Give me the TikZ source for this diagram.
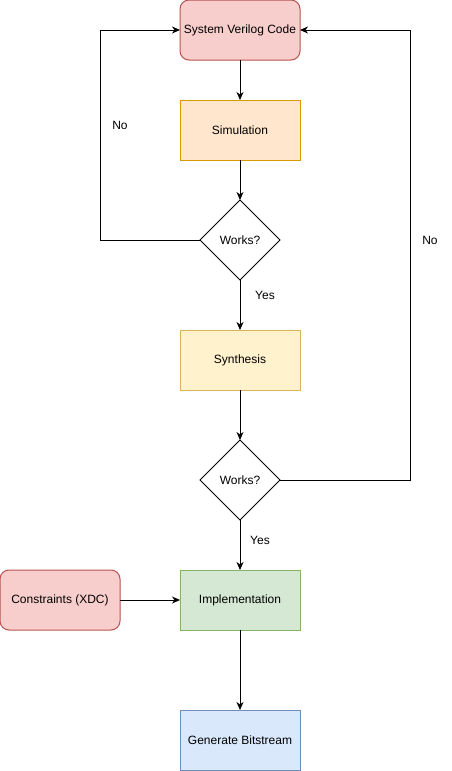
\documentclass[tikz,border=0pt]{standalone}
\usepackage{fontspec}
\setmainfont{Liberation Sans}
\usetikzlibrary{shapes.geometric, positioning, arrows.meta}

\definecolor{redfill}{HTML}{F8CECC}
\definecolor{redline}{HTML}{B85450}
\definecolor{orangefill}{HTML}{FFE6CC}
\definecolor{orangeline}{HTML}{D79B00}
\definecolor{yellowfill}{HTML}{FFF2CC}
\definecolor{yellowline}{HTML}{D6B656}
\definecolor{greenfill}{HTML}{D5E8D4}
\definecolor{greenline}{HTML}{82B366}
\definecolor{bluefill}{HTML}{DAE8FC}
\definecolor{blueline}{HTML}{6C8EBF}

\begin{document}
\begin{tikzpicture}[x=1pt, y=-1pt, line width=1pt,
  font=\fontsize{12}{14}\selectfont,
  box/.style={rectangle, minimum width=120pt, minimum height=60pt, inner sep=0pt, outer sep=0pt},
  roundbox/.style={box, rounded corners=9pt},
  works/.style={diamond, draw, aspect=1, minimum width=80pt, minimum height=80pt, inner sep=0pt, outer sep=0pt},
  arr/.style={-{Stealth[length=8pt, width=7pt, inset=2.5pt]}}]

\useasboundingbox (0,0) rectangle (451,771);

\node[roundbox, draw=redline, fill=redfill] (sv) at (240,30) {System Verilog Code};
\node[box, draw=orangeline, fill=orangefill, below=40pt of sv] (sim) {Simulation};
\node[works, below=40pt of sim] (w1) {Works?};
\node[box, draw=yellowline, fill=yellowfill, below=50pt of w1] (syn) {Synthesis};
\node[works, below=50pt of syn] (w2) {Works?};
\node[box, draw=greenline, fill=greenfill, below=50pt of w2] (impl) {Implementation};
\node[box, draw=blueline, fill=bluefill, below=80pt of impl] (bit) {Generate Bitstream};
\node[roundbox, draw=redline, fill=redfill, left=60pt of impl] (xdc) {Constraints (XDC)};

\draw[arr] (sv) -- (sim);
\draw[arr] (sim) -- (w1);
\draw[arr] (w1) -- (syn);
\draw[arr] (syn) -- (w2);
\draw[arr] (w2) -- (impl);
\draw[arr] (impl) -- (bit);
\draw[arr] (xdc) -- (impl);
\draw[arr] (w1.west) -- ++(-100,0) |- (sv.west);
\draw[arr] (w2.east) -- ++(130,0) |- (sv.east);

\node (no1) at (120,125) {No};
\node (no2) at (430,240) {No};
\node (yes1) at (265,295) {Yes};
\node (yes2) at (260,540) {Yes};

\end{tikzpicture}
\end{document}
